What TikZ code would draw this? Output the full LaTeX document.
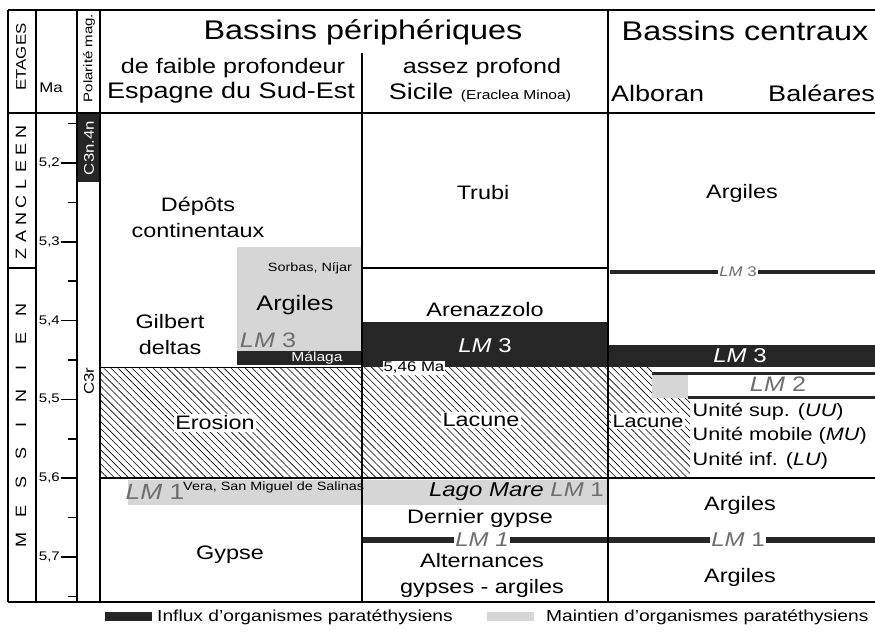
\documentclass[tikz,border=0pt]{standalone}
\usepackage{fontspec}
\setmainfont{Liberation Sans}[FakeStretch=1.2]
\usepackage{xcolor}
\usepackage{tikz}
\usetikzlibrary{patterns.meta}
\definecolor{bande}{HTML}{262626}
\definecolor{grisclair}{HTML}{D6D6D6}
\definecolor{grislm}{HTML}{6E6E6E}
\newcommand{\setfs}[1]{\fontsize{#1}{26}\selectfont}
\newcommand{\lmark}[1]{\textit{LM} #1}

\begin{document}
\begin{tikzpicture}[x=1pt, y=-1pt,
		cadre/.style={line width=2.4pt},
		trait/.style={line width=1.7pt},
		barre/.style={draw=bande, line width=#1},
		hachure/.style={pattern={Lines[angle=-45,distance=5pt,line width=0.6pt]}},
		txt/.style={inner sep=1pt, align=center, font=\setfs{19.5}},
		petit/.style={inner sep=1pt, font=\setfs{12}},
		titre/.style={inner sep=0pt, font=\setfs{27}},
		sstitre/.style={inner sep=0pt, font=\setfs{21}},
		lieu/.style={inner sep=0pt, font=\setfs{22.5}},
		lm/.style={inner sep=1pt, text=grislm, font=\setfs{20}},
		lmblanc/.style={inner sep=1pt, text=white, font=\setfs{20}},
		fond/.style={fill=white, inner sep=1.5pt},
		lettre/.style={rotate=90, inner sep=0pt, font=\setfs{15}},
		echelle/.style={inner sep=0pt, font=\setfs{12.5}}]
		\useasboundingbox (0,0) rectangle (875,632);
		% fonds
		\fill[bande] (77,113) rectangle (100,182);
		\fill[hachure] (100,367) -- (652,367) -- (652,398) -- (690,398) -- (690,478) -- (100,478) -- cycle;
		\fill[grisclair] (237,247) rectangle (362,351);
		\fill[bande] (237,351) rectangle (362,365);
		\fill[bande] (362,322) rectangle (608,367);
		\fill[bande] (608,345) rectangle (875,367);
		\fill[grisclair] (652,375) rectangle (688,398);
		\fill[grisclair] (128,480) rectangle (608,505);
		% LM barres
		\draw[barre=3.5pt] (610,272) -- (875,272);
		\draw[barre=3pt] (652,373) -- (875,373);
		\draw[barre=3pt] (688,397) -- (875,397);
		\draw[barre=6pt] (362,540) -- (875,540);
		% cadre
		\draw[cadre] (8,10) -- (875,10);
		\draw[cadre] (8,602) -- (875,602);
		\draw[cadre] (8,10) -- (8,602);
		\foreach \x in {36,77,100,608}
			\draw[trait] (\x,10) -- (\x,602);
		\draw[trait] (362,53) -- (362,602);
		\draw[trait] (8,113) -- (875,113);
		\draw[trait] (8,268) -- (36,268);
		\draw[trait] (362,268) -- (608,268);
		\draw[line width=1pt] (100,367) -- (362,367);
		\draw[trait] (100,478) -- (875,478);
		% en-tetes
		\node[titre] (bperi) at (363,32) {Bassins périphériques};
		\node[titre] (bcent) at (745,31) {Bassins centraux};
		\node[sstitre] (faible) at (233,68) {de faible profondeur};
		\node[lieu] (espagne) at (231,93) {Espagne du Sud-Est};
		\node[sstitre] (profond) at (482,68) {assez profond};
		\node[lieu] (sicile) at (480,93) {Sicile {\setfs{13}(Eraclea Minoa)}};
		\node[lieu, anchor=west] (alboran) at (611,93) {Alboran};
		\node[lieu, anchor=east] (baleares) at (875,93) {Baléares};
		\node[rotate=90, inner sep=0pt, font=\setfs{14}] (etages) at (21,57) {ETAGES};
		\node[inner sep=0pt, font=\setfs{14}] (ma) at (51,88) {Ma};
		\node[rotate=90, inner sep=0pt, font=\setfs{12.5}] (polarite) at (89,58) {Polarité mag.};
		% etages
		\foreach \c [count=\i from 0] in {Z,A,N,C,L,E,E,N}
			\node[lettre] (zan\i) at (21,254-17.5*\i) {\c};
		\foreach \c [count=\i from 0] in {M,E,S,S,I,N,I,E,N}
			\node[lettre] (mes\i) at (21,540-28.75*\i) {\c};
		% echelle Ma
		\foreach \v [count=\i from 0] in {2,...,7} {
			\node[echelle, anchor=east] (ma\v) at (60,163+78.8*\i) {5,\v};
			\draw[line width=1.5pt] (61,163+78.8*\i) -- (77,163+78.8*\i);
		}
		\foreach \i in {-1,0,...,5}
			\draw[line width=1.5pt] (68,202.4+78.8*\i) -- (77,202.4+78.8*\i);
		% polarite
		\node[rotate=90, inner sep=0pt, text=white, font=\setfs{14}] (c3n) at (89,148) {C3n.4n};
		\node[rotate=90, inner sep=0pt, font=\setfs{14}] (c3r) at (89,381) {C3r};
		% Espagne du Sud-Est
		\node[txt] (depots) at (198,217) {Dépôts\\continentaux};
		\node[petit] (sorbas) at (310,268) {Sorbas, Níjar};
		\node[txt, font=\setfs{21}] (argiles1) at (295,305) {Argiles};
		\node[lm, font=\setfs{21}] (lm3a) at (268,340) {\lmark{3}};
		\node[petit, text=white, font=\setfs{13}] (malaga) at (317,358) {Málaga};
		\node[txt] (gilbert) at (170,335) {Gilbert\\deltas};
		\node[txt, fond] (erosion) at (215,423) {Erosion};
		\node[lm, font=\setfs{22}] (lm1a) at (155,492) {\lmark{1}};
		\node[petit, anchor=west] (vera) at (182,487) {Vera, San Miguel de Salinas};
		\node[txt] (gypse) at (230,555) {Gypse};
		% Sicile
		\node[txt] (trubi) at (483,193) {Trubi};
		\node[txt] (arena) at (485,310) {Arenazzolo};
		\node[lmblanc] (lm3b) at (485,346) {\lmark{3}};
		\node[fond, inner sep=1pt, font=\setfs{14}] (date) at (414,368) {5,46 Ma};
		\node[txt, fond] (lacune1) at (481,420) {Lacune};
		\node[txt, anchor=east, font=\setfs{20}] (lagomare) at (605,492) {\textit{Lago Mare} \textcolor{grislm}{\lmark{1}}};
		\node[txt] (dernier) at (480,518) {Dernier gypse};
		\node[lm, fill=white] (lm1b) at (482,540) {\textit{LM 1}};
		\node[txt] (altern) at (482,575) {Alternances\\gypses - argiles};
		% Bassins centraux
		\node[txt] (argiles2) at (742,193) {Argiles};
		\node[lm, fill=white, font=\setfs{14}] (lm3c) at (738,272) {\lmark{3}};
		\node[lmblanc] (lm3d) at (740,356) {\lmark{3}};
		\node[lm, font=\setfs{21}] (lm2) at (778,384) {\lmark{2}};
		\node[txt, fond, font=\setfs{18}] (lacune2) at (648,421) {Lacune};
		\node[fond, anchor=west, font=\setfs{18}] (uu) at (691,412) {Unité sup. (\textit{UU})};
		\node[fond, anchor=west, font=\setfs{18}] (mu) at (691,436) {Unité mobile (\textit{MU})};
		\node[fond, anchor=west, font=\setfs{18}] (lu) at (691,461) {Unité inf. (\textit{LU})};
		\node[txt] (argiles3) at (740,505) {Argiles};
		\node[lm, fill=white] (lm1c) at (738,540) {\lmark{1}};
		\node[txt] (argiles4) at (740,577) {Argiles};
		% legende
		\fill[bande] (105,612) rectangle (152,621);
		\node[anchor=west, inner sep=0pt, font=\setfs{16}] (influx) at (157,617) {Influx d’organismes paratéthysiens};
		\fill[grisclair] (487,612) rectangle (534,621);
		\node[anchor=west, inner sep=0pt, font=\setfs{16}] (maintien) at (546,617) {Maintien d’organismes paratéthysiens};
\end{tikzpicture}
\end{document}
